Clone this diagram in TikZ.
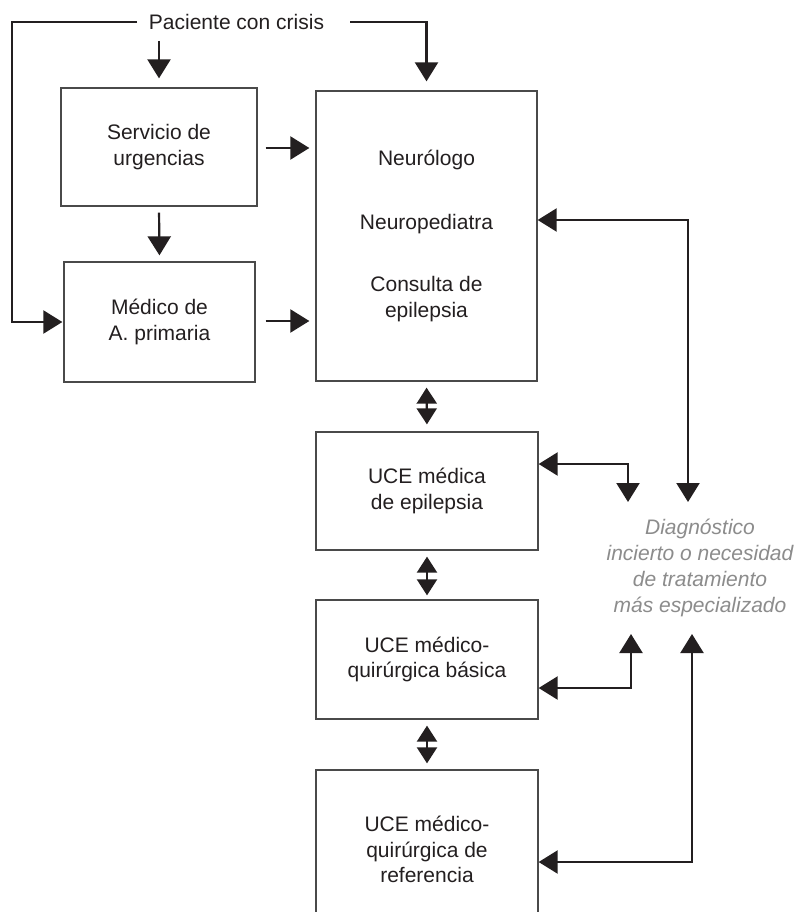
\documentclass[tikz,border=0pt]{standalone}
\usepackage{fontspec}
\setmainfont{Liberation Sans}
\usetikzlibrary{arrows.meta,calc}
\definecolor{ink}{HTML}{231F20}
\definecolor{boxc}{HTML}{4A4A4A}
\definecolor{diagc}{HTML}{8C8C8C}
\begin{document}
\begin{tikzpicture}[x=1pt,y=-1pt,
  txt/.style={text=ink, font=\fontsize{21}{25.5}\selectfont, align=center, inner sep=0pt},
  box/.style={txt, draw=boxc, line width=1.3pt, rectangle},
  arr/.style={draw=ink, line width=2.2pt, -{Triangle[width=23pt,length=19pt]}},
  darr/.style={draw=ink, line width=2.2pt, {Triangle[width=23pt,length=19pt]}-{Triangle[width=23pt,length=19pt]}},
  sarr/.style={draw=ink, line width=2.2pt, {Triangle[width=20pt,length=16pt]}-{Triangle[width=20pt,length=16pt]}},
]
\useasboundingbox[fill=white] (0,0) rectangle (795,912);

% nodes
\node[txt] (pac) at (236.5,22) {Paciente con crisis};
\node[box, minimum width=196pt, minimum height=118pt] (serv) at (159,147) {Servicio de\\urgencias};
\node[box, minimum width=191pt, minimum height=120pt] (med) at (159.5,322) {Médico de\\A. primaria};
\node[box, minimum width=221pt, minimum height=290pt] (neuro) at (426.5,236)
  {Neurólogo\\[38pt]Neuropediatra\\[37pt]Consulta de\\epilepsia};
\node[box, minimum width=222pt, minimum height=118pt] (uce1) at (427,491) {UCE médica\\de epilepsia};
\node[box, minimum width=222pt, minimum height=119pt] (uce2) at (427,659.5) {UCE médico-\\quirúrgica básica};
\node[box, minimum width=222pt, minimum height=159pt] (uce3) at (427,849.5) {UCE médico-\\quirúrgica de\\referencia};
\node[text=diagc, font=\itshape\fontsize{21}{26}\selectfont, align=center, inner sep=0pt] (diag) at (700,568)
  {Diagnóstico\\incierto o necesidad\\de tratamiento\\más especializado};

% free ends
\coordinate (pl) at (137,22);
\coordinate (pr) at (350,22);
\coordinate (pd) at (159,41);
\coordinate (d1) at (628,502);
\coordinate (d2) at (688,502);
\coordinate (d3) at (631,634);
\coordinate (d4) at (692,634);

% connectors
\draw[arr, shorten >=1pt] (pl) -| ([xshift=-51pt]med.west) -- (med.west);
\draw[arr, shorten >=9pt] (pr) -| (neuro.north);
\draw[arr, shorten >=9pt] (pd) -- (serv.north);
\draw[arr, shorten <=6pt, shorten >=6pt] (serv.south) -- (med.north);
\draw[arr, shorten <=8pt, shorten >=6pt] (serv.east |- 0,148) -- (neuro.west |- 0,148);
\draw[arr, shorten <=10pt, shorten >=6pt] (med.east |- 0,321) -- (neuro.west |- 0,321);

\draw[sarr, shorten <=6pt, shorten >=7pt] (neuro.south) -- (uce1.north);
\draw[sarr, shorten <=6pt, shorten >=4pt] (uce1.south) -- (uce2.north);
\draw[sarr, shorten <=6pt, shorten >=6pt] (uce2.south) -- (uce3.north);

\draw[darr] (neuro.east |- 0,220) -| (d2);
\draw[darr] (uce1.east |- 0,464) -| (d1);
\draw[darr] (uce2.east |- 0,688) -| (d3);
\draw[darr] (uce3.east |- 0,862) -| (d4);
\end{tikzpicture}
\end{document}
